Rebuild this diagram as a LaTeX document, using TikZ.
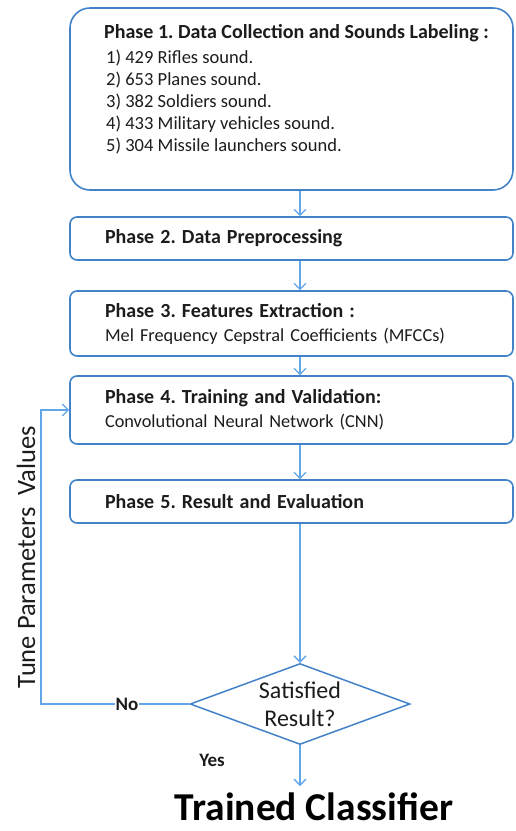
\documentclass[tikz,border=0pt]{standalone}
\usepackage{fontspec}
\setmainfont{Carlito}
\usepackage{xcolor}
\usepackage{tikz}
\usetikzlibrary{arrows.meta,shapes.geometric}
\definecolor{cEdge}{RGB}{66,130,200}
\definecolor{cLink}{RGB}{96,166,232}
\definecolor{cInk}{RGB}{28,28,28}
\newcommand{\phtitle}[1]{{\bfseries\fontsize{20}{24}\selectfont #1}}
\frenchspacing

\begin{document}
\begin{tikzpicture}[x=1pt, y=-1pt,
  phase/.style={draw=cEdge, line width=1.6pt, rounded corners=7pt,
                minimum width=443pt, text width=373pt, inner xsep=35pt, inner ysep=0pt,
                align=left, text=cInk, font=\fontsize{18.3}{24}\selectfont},
  decision/.style={diamond, draw=cEdge, line width=1.5pt, aspect=2.7, inner sep=0pt,
                   minimum width=220pt, minimum height=81pt, align=center,
                   text=cInk, font=\fontsize{24}{28}\selectfont},
  tag/.style={font=\bfseries\fontsize{19}{22}\selectfont, text=cInk, inner sep=1pt},
  link/.style={draw=cLink, line width=1.3pt, -{Straight Barb[length=6pt, width=12pt]}}]
\useasboundingbox (0,0) rectangle (516,831);
% the five phases
\node[phase, rounded corners=20pt, minimum height=182pt] (ph1) at (291.5,99) {};
\node[anchor=north west, align=left, inner sep=0pt, text=cInk,
      font=\fontsize{18.5}{22}\selectfont] (ph1list) at (104,24)
  {\phtitle{Phase 1. Data Collection and Sounds Labeling :}\\[3pt]
   \hspace*{2pt}1) 429 Rifles sound.\\
   \hspace*{2pt}2) 653 Planes sound.\\
   \hspace*{2pt}3) 382 Soldiers sound.\\
   \hspace*{2pt}4) 433 Military vehicles sound.\\
   \hspace*{2pt}5) 304 Missile launchers sound.};
\node[phase, minimum height=43pt] (ph2) at (291.5,238.5) {\phtitle{Phase 2. Data Preprocessing}};
\node[phase, minimum height=65pt] (ph3) at (291.5,323.5)
  {\phtitle{Phase 3. Features Extraction :}\\Mel Frequency Cepstral Coefficients (MFCCs)};
\node[phase, minimum height=68pt] (ph4) at (291.5,410)
  {\phtitle{Phase 4. Training and Validation:}\\Convolutional Neural Network (CNN)};
\node[phase, minimum height=43pt] (ph5) at (291.5,501.5) {\phtitle{Phase 5. Result and Evaluation}};
% decision and outcome
\node[decision] (dia) at (300,704) {Satisfied\\Result?};
\node[anchor=base, font=\bfseries\fontsize{39.5}{44}\selectfont, text=black, inner sep=2pt]
  (done) at (314,820) {Trained Classifier};
\node[rotate=90, text=cInk, font=\fontsize{26.5}{30}\selectfont] (tunelbl) at (26,557) {Tune Parameters\ \ Values};
\node[tag] (yes) at (212,760) {Yes};
\coordinate (tune) at (41,557);
% connectors
\draw[link] (ph1.south -| dia) -- (ph2.north -| dia);
\draw[link] (ph2.south -| dia) -- (ph3.north -| dia);
\draw[link] (ph3.south -| dia) -- (ph4.north -| dia);
\draw[link] (ph4.south -| dia) -- (ph5.north -| dia);
\draw[link] (ph5.south -| dia) -- (dia.north);
\draw[link, shorten >=4pt] (dia.south) -- (dia.south |- done.north);
\draw[link] (dia.west) -- node[tag, fill=white, pos=0.42] (no) {No} (dia.west -| tune) |- (ph4.west);
\end{tikzpicture}
\end{document}
